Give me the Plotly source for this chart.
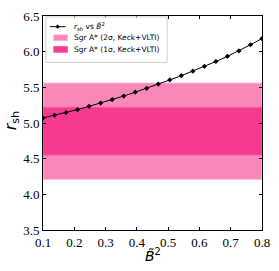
import plotly.graph_objects as go

b2 = [0.1, 0.1368, 0.1737, 0.2105, 0.2474, 0.2842, 0.3211, 0.3579, 0.3947, 0.4316,
      0.4684, 0.5053, 0.5421, 0.5789, 0.6158, 0.6526, 0.6895, 0.7263, 0.7632, 0.8]
rsh = [5.071, 5.107, 5.147, 5.188, 5.234, 5.279, 5.329, 5.378, 5.432, 5.486,
       5.546, 5.604, 5.663, 5.727, 5.794, 5.862, 5.934, 6.011, 6.097, 6.184]
band2 = [4.21, 5.56]
band1 = [4.55, 5.22]
xr = [0.1, 0.8]
xticks = [0.1, 0.2, 0.3, 0.4, 0.5, 0.6, 0.7, 0.8]
yticks = [3.5, 4.0, 4.5, 5.0, 5.5, 6.0, 6.5]
labels = ["<i>r</i><sub>sh</sub> vs <i>B̃</i><sup>2</sup>",
          "Sgr A* (2σ, Keck+VLTI)",
          "Sgr A* (1σ, Keck+VLTI)"]

C2, C2E = "#F987BC", "#FBB6D5"
C1, C1E = "#F63A90", "#F8609F"

W, H = 279, 271
ML, MR, MT, MB = 43, 12, 9, 41
PW, PH = W - ML - MR, H - MT - MB


def px(x):
    return (x - ML) / PW


def py(y):
    return (H - MB - y) / PH


fig = go.Figure()
fig.add_trace(go.Scatter(
    x=[xr[0], xr[1], xr[1], xr[0], xr[0]],
    y=[band2[0], band2[0], band2[1], band2[1], band2[0]],
    fill="toself", fillcolor=C2, mode="lines",
    line=dict(color=C2E, width=1), showlegend=False, hoverinfo="skip"))
fig.add_trace(go.Scatter(
    x=[xr[0], xr[1], xr[1], xr[0], xr[0]],
    y=[band1[0], band1[0], band1[1], band1[1], band1[0]],
    fill="toself", fillcolor=C1, mode="lines",
    line=dict(color=C1E, width=1), showlegend=False, hoverinfo="skip"))
fig.add_trace(go.Scatter(
    x=b2, y=rsh, mode="lines+markers",
    line=dict(color="black", width=1),
    marker=dict(symbol="diamond", size=4, color="black"),
    showlegend=False))

axis_common = dict(
    showline=True, linecolor="black", linewidth=1, mirror="ticks",
    ticks="inside", ticklen=3, tickcolor="black", showgrid=False, zeroline=False,
    tickfont=dict(family="Liberation Serif", size=13, color="black"),
)
fig.update_xaxes(range=xr, tickvals=xticks, ticktext=[f"{v:.1f}" for v in xticks], **axis_common)
fig.update_yaxes(range=[3.5, 6.5], tickvals=yticks, ticktext=[f"{v:.1f}" for v in yticks], **axis_common)

shapes = []
annotations = []
# legend box
shapes.append(dict(type="rect", xref="paper", yref="paper",
                   x0=px(46), x1=px(170), y0=py(57), y1=py(10),
                   line=dict(color="#d0d0d0", width=1), fillcolor="rgba(255,255,255,0.85)",
                   layer="above"))
rows = [20, 31.5, 43.5]
# line sample
shapes.append(dict(type="line", xref="paper", yref="paper",
                   x0=px(50), x1=px(66), y0=py(rows[0]), y1=py(rows[0]),
                   line=dict(color="black", width=1), layer="above"))
cx, cy = 58, rows[0]
shapes.append(dict(type="path", xref="paper", yref="paper", layer="above",
                   path=f"M {px(cx-2)} {py(cy)} L {px(cx)} {py(cy-2)} L {px(cx+2)} {py(cy)} L {px(cx)} {py(cy+2)} Z",
                   fillcolor="black", line=dict(color="black", width=0.5)))
for r, fc, ec in [(rows[1], C2, C2E), (rows[2], C1, C1E)]:
    shapes.append(dict(type="rect", xref="paper", yref="paper", layer="above",
                       x0=px(54), x1=px(68), y0=py(r + 3), y1=py(r - 3),
                       fillcolor=fc, line=dict(color=ec, width=1)))
for r, t in zip(rows, labels):
    annotations.append(dict(text=t, xref="paper", yref="paper", x=px(73), y=py(r),
                            xanchor="left", yanchor="middle", showarrow=False,
                            font=dict(family="DejaVu Sans", size=7.5, color="black")))
# axis titles
annotations.append(dict(text="<i>B̃</i><sup>2</sup>", xref="paper", yref="paper",
                        x=px(155), y=py(256), xanchor="center", yanchor="middle", showarrow=False,
                        font=dict(family="DejaVu Sans", size=14, color="black")))
annotations.append(dict(text="<i>r</i><sub>sh</sub>", xref="paper", yref="paper",
                        x=px(11), y=py(117), xanchor="center", yanchor="middle", showarrow=False,
                        textangle=-90,
                        font=dict(family="DejaVu Sans", size=16, color="black")))

fig.update_layout(
    width=W, height=H,
    margin=dict(l=ML, r=MR, t=MT, b=MB),
    plot_bgcolor="white", paper_bgcolor="white",
    showlegend=False, shapes=shapes, annotations=annotations,
)
fig.write_html("out.html", config={"displayModeBar": False},
               post_script="document.body.style.margin='0px';")
